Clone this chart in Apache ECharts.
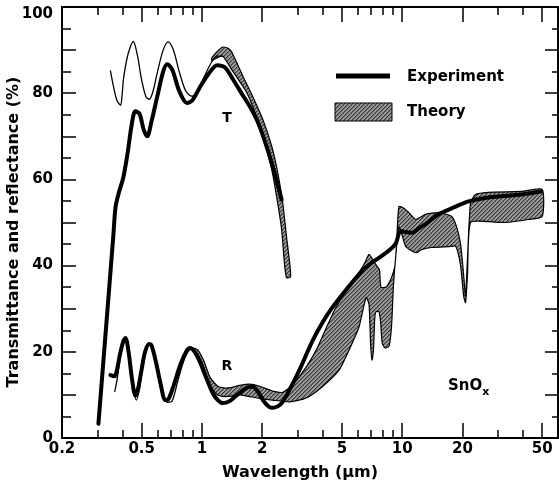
<!DOCTYPE html>
<html>
<head>
<meta charset="utf-8">
<title>SnOx transmittance and reflectance</title>
<script src="https://cdn.jsdelivr.net/npm/echarts@6/dist/echarts.min.js"></script>
<style>
  html, body { margin: 0; padding: 0; background: #fff; }
  #chart { width: 559px; height: 485px; }
</style>
</head>
<body>
<div id="chart"></div>
<script>
// ---- axis ticks and labels (wavelength in µm, values in %) ----
const xTickLabels = [0.2, 0.5, 1, 2, 5, 10, 20, 50];
const xMajorTicks = [0.5, 1, 2, 5, 10, 20, 50];
const xMinorTicks = [0.3, 0.4, 0.6, 0.7, 0.8, 0.9, 3, 4, 6, 7, 8, 9, 30, 40];
const yTickLabels = [0, 20, 40, 60, 80, 100];
const yMajorTicks = [0, 10, 20, 30, 40, 50, 60, 70, 80, 90, 100];
const yMinorTicks = [5, 15, 25, 35, 45, 55, 65, 75, 85, 95];

// ---- measured transmittance T [wavelength µm, %] ----
const tExperiment = [
  [0.304, 3.3], [0.361, 47], [0.37, 53.5], [0.385, 57], [0.405, 60.5], [0.425, 66],
  [0.445, 72.5], [0.465, 75.8], [0.488, 75.2], [0.512, 71.5], [0.533, 70], [0.56, 73.5],
  [0.6, 79.5], [0.64, 85], [0.67, 86.7], [0.71, 85.5], [0.77, 80.5], [0.842, 77.7],
  [0.9, 78.5], [0.98, 81.5], [1.08, 84.5], [1.19, 86.5], [1.3, 86], [1.425, 83.3],
  [1.6, 79.5], [1.73, 77], [1.9, 73.3], [2.1, 67.7], [2.3, 61.6], [2.5, 55.3]
];

// ---- calculated transmittance: single curve in the visible ----
const tTheoryLine = [
  [0.349, 85.2], [0.36, 82], [0.375, 78.5], [0.392, 77.2], [0.398, 79], [0.405, 83],
  [0.414, 86], [0.43, 89.5], [0.454, 92], [0.475, 89], [0.5, 83], [0.525, 79.2],
  [0.546, 78.6], [0.57, 80.5], [0.6, 85], [0.64, 90], [0.678, 91.9], [0.72, 90],
  [0.77, 85], [0.83, 80.5], [0.892, 79.3], [0.95, 80.5], [1.03, 84], [1.12, 87.3],
  [1.19, 88.6], [1.27, 88.6]
];

// ---- calculated transmittance: band limits in the near infrared ----
const tTheoryUpper = [
  [1.12, 88.2], [1.2, 89.8], [1.27, 90.7], [1.35, 90.4], [1.41, 89.5], [1.6, 84],
  [1.79, 79.3], [2.01, 74], [2.23, 67.7], [2.39, 61.6], [2.53, 54.7], [2.645, 46.7],
  [2.74, 40.7], [2.77, 37.4]
];
const tTheoryLower = [
  [1.12, 87.6], [1.2, 88.3], [1.27, 88.6], [1.425, 85.1], [1.67, 80.2], [1.88, 74.4],
  [2.06, 68.6], [2.23, 62.3], [2.36, 56], [2.5, 48.4], [2.58, 40.7], [2.645, 37.2]
];

// ---- measured reflectance R ----
const rExperiment = [
  [0.349, 14.6], [0.365, 14.3], [0.375, 15.5], [0.39, 19.5], [0.405, 22.5], [0.415, 23.2],
  [0.43, 20], [0.448, 13.5], [0.465, 9.8], [0.48, 11.5], [0.5, 16], [0.52, 20],
  [0.545, 21.8], [0.56, 21.5], [0.59, 17.5], [0.625, 12], [0.655, 8.8], [0.68, 9],
  [0.72, 12], [0.78, 17], [0.84, 20.3], [0.872, 20.9], [0.92, 20], [0.98, 17.5],
  [1.05, 14], [1.13, 10.5], [1.2, 8.8], [1.27, 8.1], [1.38, 8.6], [1.5, 10],
  [1.65, 11.5], [1.79, 11.9], [1.9, 10.8], [2.03, 8.6], [2.17, 7.2], [2.25, 7.0],
  [2.4, 7.4], [2.53, 8.4], [2.74, 11.2], [3.07, 15.8], [3.56, 22.5], [4.0, 26.8],
  [4.48, 30.3], [5.25, 34.4], [6.3, 38.8], [7.0, 40.6], [7.66, 41.8], [8.59, 43.5],
  [9.3, 45.2], [9.8, 48], [10.4, 47.8], [11.2, 47.6], [12, 48.5], [13.6, 50.2],
  [15.2, 51.9], [18.5, 53.7], [21.45, 54.9], [27, 55.8], [39.3, 56.5], [49.4, 57.2]
];

// ---- calculated reflectance: single curve in the visible ----
const rTheoryLine = [
  [0.367, 10.8], [0.375, 13], [0.385, 16.5], [0.4, 21.5], [0.413, 23], [0.43, 19.5],
  [0.45, 12.5], [0.47, 8.8], [0.49, 12], [0.515, 19], [0.545, 21.8], [0.565, 21],
  [0.6, 15.5], [0.64, 10], [0.67, 8.3], [0.71, 8.6], [0.76, 13.5], [0.82, 18.5],
  [0.88, 21]
];

// ---- calculated reflectance: band limits from the near to the far infrared ----
const rTheoryUpper = [
  [0.88, 21], [0.95, 20.5], [1.02, 18], [1.1, 14], [1.2, 12], [1.3, 11.6], [1.4, 11.7],
  [1.544, 12.2], [1.73, 12.5], [1.94, 12], [2.25, 10.9], [2.53, 10.6], [2.83, 12.3],
  [3.32, 16.5], [3.73, 20.5], [3.99, 23.5], [4.69, 30.5], [5.44, 35], [6.09, 38.4],
  [6.5, 40.6], [6.83, 42.6], [7.1, 41.5], [7.5, 39.8], [7.7, 39], [7.84, 35], [8.3, 35],
  [8.6, 36], [8.89, 37.5], [9.2, 40], [9.4, 46], [9.63, 53.7], [10.2, 53.3], [10.8, 52.3],
  [11.7, 50.7], [13.1, 51.9], [15.2, 52.3], [17.66, 51.4], [18.7, 49], [19.57, 45],
  [20.26, 38], [20.73, 33], [21.2, 42], [21.95, 54.6], [23.24, 56.5], [26.96, 57],
  [39.3, 57.2], [50, 57.7]
];
const rTheoryLower = [
  [0.88, 20.5], [0.95, 19.5], [1.02, 16.5], [1.1, 12], [1.2, 10], [1.3, 9.6], [1.4, 9.7],
  [1.544, 10], [1.73, 9.6], [1.94, 9.2], [2.25, 8.8], [2.74, 8.4], [3.32, 9.3],
  [3.99, 11.9], [4.85, 15.8], [5.44, 20.5], [6.09, 25.8], [6.6, 32.6], [6.83, 31],
  [6.95, 22], [7.07, 18.1], [7.18, 20], [7.3, 28], [7.4, 29.3], [7.66, 29.3], [7.8, 27],
  [7.95, 22], [8.2, 20.9], [8.6, 21.3], [8.85, 26], [9.05, 35.6], [9.4, 44.9], [9.63, 49],
  [10.0, 47], [10.43, 44.4], [11.7, 43], [12.5, 43.7], [14.05, 44.2], [17.06, 44.4],
  [18.5, 44.5], [19.57, 40], [20.26, 33], [20.73, 31.4], [21.2, 38], [21.95, 50],
  [26.96, 50.2], [32.75, 50], [42.6, 50.7], [50, 51.4]
];

// ---- wavelength axis runs on log10(µm) ----
const lg = Math.log10;
const X_MIN = lg(0.2);
const X_MAX = lg(60);
const toXY = arr => arr.map(p => [lg(p[0]), p[1]]);

const FONT = '"DejaVu Sans", "Liberation Sans", sans-serif';

// fine diagonal hatching used for the calculated bands
function makeHatch() {
  const c = document.createElement('canvas');
  c.width = 4; c.height = 4;
  const ctx = c.getContext('2d');
  ctx.fillStyle = '#9c9c9c';
  ctx.fillRect(0, 0, 4, 4);
  ctx.fillStyle = '#3a3a3a';
  for (let i = 0; i < 4; i++) {
    ctx.fillRect(3 - i, i, 1, 1);
  }
  ctx.fillStyle = '#6a6a6a';
  for (let i = 0; i < 4; i++) {
    ctx.fillRect((4 - i) % 4, i, 1, 1);
  }
  return { image: c, repeat: 'repeat' };
}
const hatch = makeHatch();

function bandSeries(name, upper, lower) {
  return {
    name: name,
    type: 'custom',
    coordinateSystem: 'cartesian2d',
    xAxisIndex: 0,
    yAxisIndex: 0,
    silent: true,
    z: 2,
    data: [[X_MIN, 0]],
    renderItem: function (params, api) {
      const pts = upper.map(p => api.coord([lg(p[0]), p[1]]))
        .concat(lower.slice().reverse().map(p => api.coord([lg(p[0]), p[1]])));
      return {
        type: 'polygon',
        shape: { points: pts, smooth: 0.2 },
        style: { fill: hatch, stroke: '#000', lineWidth: 1.2 }
      };
    }
  };
}

function lineSeries(name, data, width, z) {
  return {
    name: name,
    type: 'line',
    xAxisIndex: 0,
    yAxisIndex: 0,
    data: toXY(data),
    symbol: 'none',
    smooth: 0.3,
    silent: true,
    z: z,
    lineStyle: { color: '#000', width: width, cap: 'round', join: 'round' }
  };
}

function xAxisDef(position, ticks, len, withLine, labels) {
  return {
    type: 'value',
    position: position,
    min: X_MIN,
    max: X_MAX,
    axisLine: { show: withLine, onZero: false, lineStyle: { color: '#000', width: 2 } },
    axisTick: { show: true, inside: true, length: len, customValues: ticks.map(lg),
                lineStyle: { color: '#000', width: 1.5 } },
    axisLabel: labels ? {
      show: true, customValues: labels.map(lg), margin: 4,
      color: '#000', fontFamily: FONT, fontWeight: 'bold', fontSize: 15,
      formatter: v => String(parseFloat(Math.pow(10, v).toPrecision(2)))
    } : { show: false },
    splitLine: { show: false }
  };
}

function yAxisDef(position, ticks, len, withLine, labels) {
  return {
    type: 'value',
    position: position,
    min: 0,
    max: 100,
    axisLine: { show: withLine, onZero: false, lineStyle: { color: '#000', width: 2 } },
    axisTick: { show: true, inside: true, length: len, customValues: ticks,
                lineStyle: { color: '#000', width: 1.5 } },
    axisLabel: labels ? {
      show: true, customValues: labels, margin: 9,
      color: '#000', fontFamily: FONT, fontWeight: 'bold', fontSize: 15,
      formatter: v => v === 100 ? '{low|100}' : String(v),
      rich: { low: { fontFamily: FONT, fontWeight: 'bold', fontSize: 15, padding: [14, 0, 0, 0] } }
    } : { show: false },
    splitLine: { show: false }
  };
}

const chart = echarts.init(document.getElementById('chart'), null, { renderer: 'canvas' });

chart.setOption({
  animation: false,
  backgroundColor: '#fff',
  grid: { left: 62, right: 1, top: 7, bottom: 47, containLabel: false },
  xAxis: [
    xAxisDef('bottom', xMajorTicks, 15, true, xTickLabels),
    xAxisDef('bottom', xMinorTicks, 8, false, null),
    xAxisDef('top', xMajorTicks, 15, true, null),
    xAxisDef('top', xMinorTicks, 8, false, null)
  ],
  yAxis: [
    yAxisDef('left', yMajorTicks, 14, true, yTickLabels),
    yAxisDef('left', yMinorTicks, 9, false, null),
    yAxisDef('right', yMajorTicks, 13, true, null),
    yAxisDef('right', yMinorTicks, 6, false, null)
  ],
  series: [
    bandSeries('Theory T', tTheoryUpper, tTheoryLower),
    bandSeries('Theory R', rTheoryUpper, rTheoryLower),
    lineSeries('Theory T (visible)', tTheoryLine, 1.3, 3),
    lineSeries('Theory R (visible)', rTheoryLine, 1.3, 3),
    lineSeries('Experiment T', tExperiment, 4, 4),
    lineSeries('Experiment R', rExperiment, 4, 4)
  ],
  graphic: [
    // legend
    { type: 'line', shape: { x1: 336, y1: 76, x2: 390, y2: 76 },
      style: { stroke: '#000', lineWidth: 5 } },
    { type: 'text', x: 407, y: 77,
      style: { text: 'Experiment', font: 'bold 15px ' + FONT, fill: '#000', align: 'left', verticalAlign: 'middle' } },
    { type: 'rect', shape: { x: 335, y: 103, width: 57, height: 18 },
      style: { fill: hatch, stroke: '#000', lineWidth: 1 } },
    { type: 'text', x: 407, y: 112,
      style: { text: 'Theory', font: 'bold 15px ' + FONT, fill: '#000', align: 'left', verticalAlign: 'middle' } },
    // curve labels
    { type: 'text', x: 227, y: 118,
      style: { text: 'T', font: 'bold 14px ' + FONT, fill: '#000', align: 'center', verticalAlign: 'middle' } },
    { type: 'text', x: 227, y: 366,
      style: { text: 'R', font: 'bold 14px ' + FONT, fill: '#000', align: 'center', verticalAlign: 'middle' } },
    { type: 'text', x: 448, y: 386,
      style: {
        text: '{a|SnO}{b|x}', align: 'left', verticalAlign: 'middle',
        rich: {
          a: { font: 'bold 15px ' + FONT, fill: '#000', lineHeight: 24, verticalAlign: 'middle' },
          b: { font: 'bold 11px ' + FONT, fill: '#000', lineHeight: 12, verticalAlign: 'bottom' }
        }
      } },
    // axis titles
    { type: 'text', x: 14, y: 232, rotation: Math.PI / 2,
      style: { text: 'Transmittance and reflectance (%)', font: 'bold 16px ' + FONT, fill: '#000',
               align: 'center', verticalAlign: 'middle' } },
    { type: 'text', x: 300, y: 473,
      style: { text: 'Wavelength (µm)', font: 'bold 16px ' + FONT, fill: '#000',
               align: 'center', verticalAlign: 'middle' } }
  ]
});
</script>
</body>
</html>
